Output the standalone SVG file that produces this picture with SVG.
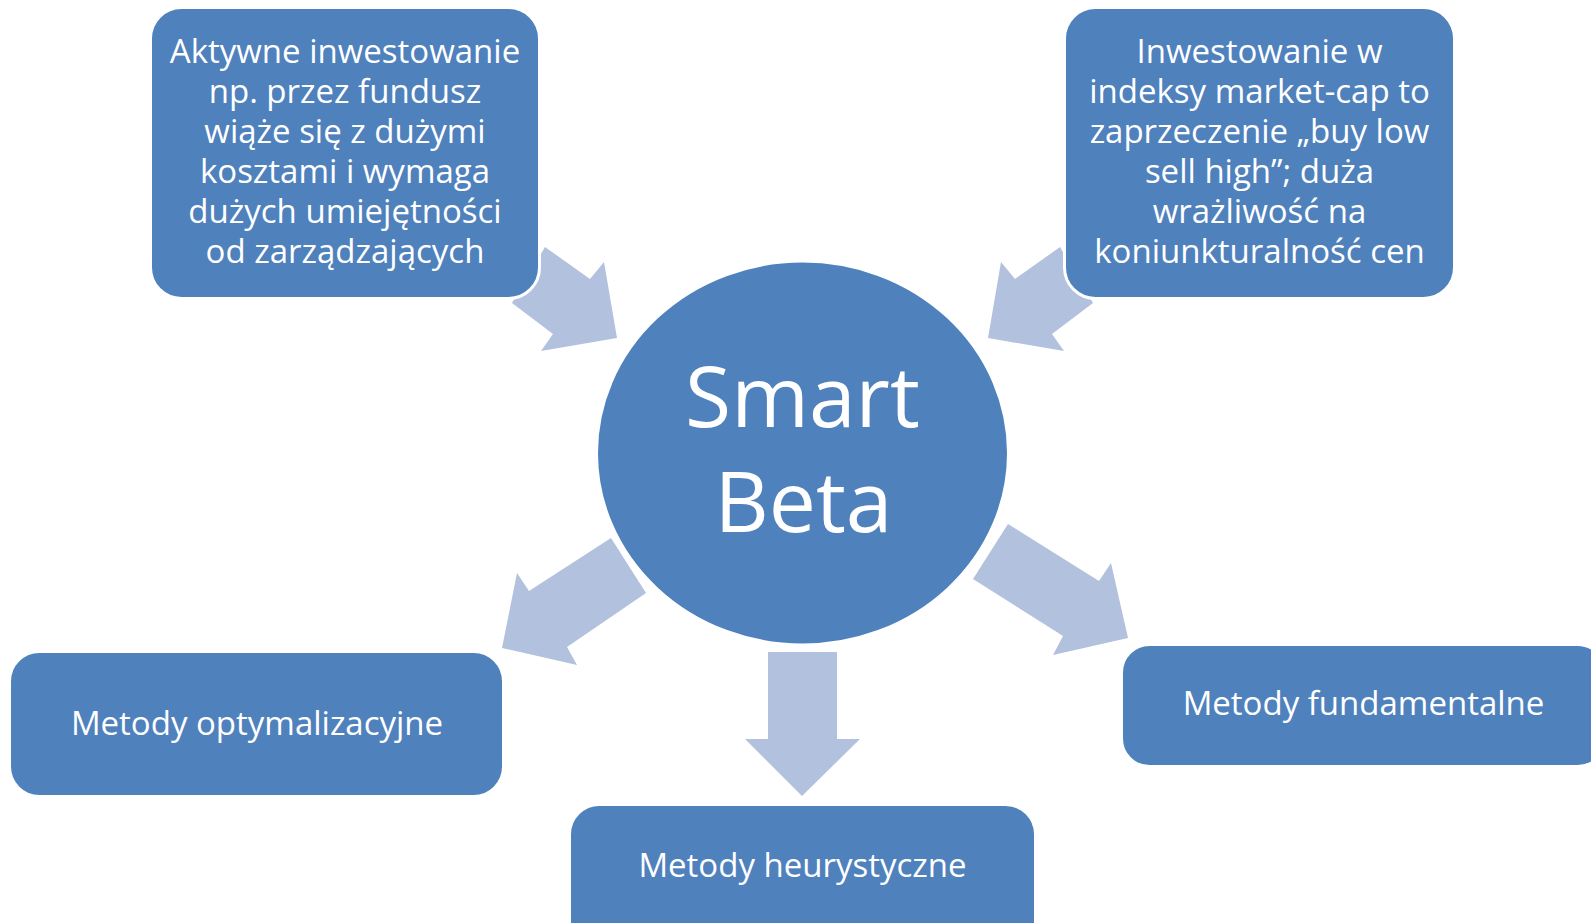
<svg xmlns="http://www.w3.org/2000/svg" width="1591" height="923" viewBox="0 0 1591 923">
<style>
.box{fill:#4F81BD;stroke:#FFFFFF;stroke-width:3}
.arrow{fill:#B2C1DD;stroke:none}
.t{font-family:"Open Sans","Noto Sans",sans-serif;font-size:33px;fill:#FFFFFF;text-anchor:middle}
.big{font-family:"Open Sans","Noto Sans",sans-serif;font-size:84px;fill:#FFFFFF;text-anchor:middle}
</style>
<rect width="1591" height="923" fill="#FFFFFF"/>
<g id="connectors">
<polygon class="arrow" points="545,247 590,279 604,262 617,338 541,351 553,334 512,303"/>
<polygon class="arrow" points="1060,247 1015,279 1001,262 988,338 1064,351 1052,334 1093,303"/>
<polygon class="arrow" points="611,538 646,593 567,647 577,665 502,648 517,573 529,591"/>
<polygon class="arrow" points="1008,524 1099,581 1111,563 1128,638 1053,655 1063,636 973,579"/>
<polygon class="arrow" points="768,652 837,652 837,739 860,739 802,796 745,739 768,739"/>
</g>
<g id="node-center">
<ellipse class="box" cx="802.5" cy="453" rx="206" ry="192"/>
<text class="big" x="802.5" y="427">Smart</text>
<text class="big" x="803.5" y="532">Beta</text>
</g>
<g id="node-aktywne">
<rect class="box" x="150.5" y="7.5" width="389" height="291" rx="31"/>
<text class="t" x="345" y="63">Aktywne inwestowanie</text>
<text class="t" x="345" y="103">np. przez fundusz</text>
<text class="t" x="345" y="143">wiąże się z dużymi</text>
<text class="t" x="345" y="183">kosztami i wymaga</text>
<text class="t" x="345" y="223">dużych umiejętności</text>
<text class="t" x="345" y="263">od zarządzających</text>
</g>
<g id="node-indeksy">
<rect class="box" x="1064.5" y="7.5" width="390" height="291" rx="31"/>
<text class="t" x="1259.5" y="63">Inwestowanie w</text>
<text class="t" x="1259.5" y="103">indeksy market-cap to</text>
<text class="t" x="1259.5" y="143">zaprzeczenie „buy low</text>
<text class="t" x="1259.5" y="183">sell high”; duża</text>
<text class="t" x="1259.5" y="223">wrażliwość na</text>
<text class="t" x="1259.5" y="263">koniunkturalność cen</text>
</g>
<g id="node-optymalizacyjne">
<rect class="box" x="9.5" y="651.5" width="494" height="145" rx="30"/>
<text class="t" x="257" y="735">Metody optymalizacyjne</text>
</g>
<g id="node-heurystyczne">
<rect class="box" x="569.5" y="804.5" width="466" height="152" rx="30"/>
<text class="t" x="802.5" y="877">Metody heurystyczne</text>
</g>
<g id="node-fundamentalne">
<rect class="box" x="1121.5" y="644.5" width="484" height="122" rx="28"/>
<text class="t" x="1363.5" y="715">Metody fundamentalne</text>
</g>
</svg>
